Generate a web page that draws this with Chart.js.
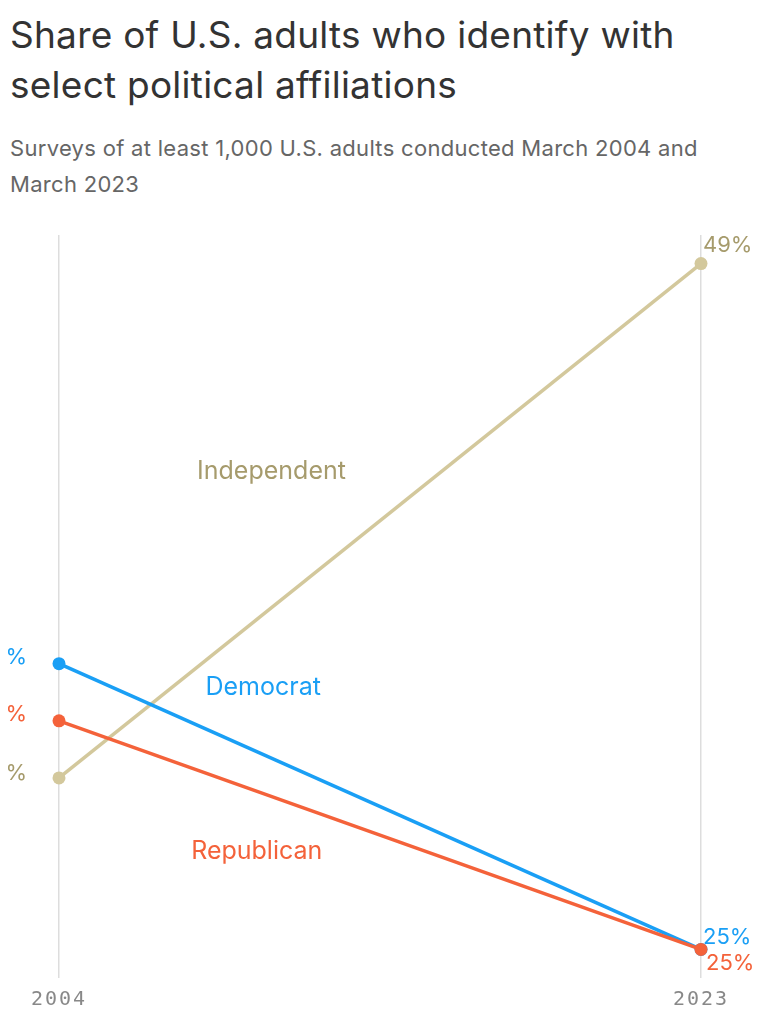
<!DOCTYPE html>
<html>
<head>
<meta charset="utf-8">
<script src="https://cdn.jsdelivr.net/npm/chart.js@4.4.1/dist/chart.umd.min.js"></script>
<style>
  html, body { margin: 0; padding: 0; background: #fff; width: 770px; height: 1020px; overflow: hidden; }
  #title { position: absolute; left: 10px; top: 10px; width: 740px; font-family: Inter, "Noto Sans", sans-serif; font-size: 37px; line-height: 50px; color: #333; letter-spacing: 0.25px; font-weight: 400; }
  #subtitle { position: absolute; left: 10px; top: 130px; width: 725px; font-family: Inter, "Noto Sans", sans-serif; font-size: 22px; line-height: 36px; color: #666; letter-spacing: 0.3px; }
  #wrap { position: absolute; left: 8px; top: 225px; width: 762px; height: 795px; }
</style>
</head>
<body>
<div id="title">Share of U.S. adults who identify with select political affiliations</div>
<div id="subtitle">Surveys of at least 1,000 U.S. adults conducted March 2004 and March 2023</div>
<div id="wrap"><canvas id="c"></canvas></div>
<script>
const years = ['2004', '2023'];
const seriesNames = ['Independent', 'Democrat', 'Republican'];
const independent = [31, 49];
const democrat = [35, 25];
const republican = [33, 25];

const lineColors = ['#D3C89C', '#1A9FF5', '#F4623A'];
const textColors = ['#A69B6C', '#1A9FF5', '#F4623A'];

// name-label anchors: [fraction across x, value on y]
const nameAnchors = [[0.331, 41.71], [0.318, 34.15], [0.308, 28.41]];
// 2004 / 2023 label vertical offsets (px)
const startOffsets = [-5, -6, -6];
const endOffsets = [-18, -12, 14];

const valueLabels = {
  id: 'valueLabels',
  beforeDraw(chart) { chart.ctx.letterSpacing = '2px'; },
  afterDatasetsDraw(chart) {
    const ctx = chart.ctx;
    const xs = chart.scales.x, ys = chart.scales.y;
    ctx.save();
    ctx.letterSpacing = '0px';
    ctx.textBaseline = 'middle';
    chart.data.datasets.forEach((ds, j) => {
      const i = ds.seriesIndex;
      const meta = chart.getDatasetMeta(j);
      const p0 = meta.data[0], p1 = meta.data[1];
      ctx.fillStyle = textColors[i];
      ctx.font = '22px Inter, "Noto Sans", sans-serif';
      ctx.textAlign = 'right';
      ctx.fillText(ds.data[0] + '%', p0.x - 32, p0.y + startOffsets[i]);
      ctx.textAlign = 'left';
      ctx.fillText(ds.data[1] + '%', p1.x + (i === 2 ? 5 : 2), p1.y + endOffsets[i]);
      const a = nameAnchors[i];
      const nx = xs.left + (xs.right - xs.left) * a[0];
      const ny = ys.getPixelForValue(a[1]);
      ctx.textAlign = 'center';
      ctx.font = '25px Inter, "Noto Sans", sans-serif';
      ctx.fillText(seriesNames[i], nx, ny);
    });
    ctx.restore();
  }
};

const seriesData = [independent, democrat, republican];
const drawOrder = [2, 1, 0];
new Chart(document.getElementById('c'), {
  type: 'line',
  data: {
    labels: years,
    datasets: seriesData.map((d, i) => ({
      label: seriesNames[i],
      seriesIndex: i,
      order: drawOrder[i],
      data: d,
      borderColor: lineColors[i],
      backgroundColor: lineColors[i],
      pointBackgroundColor: lineColors[i],
      pointBorderWidth: 0,
      pointRadius: 6.5,
      borderWidth: 3.5,
      tension: 0,
      clip: false
    }))
  },
  options: {
    responsive: true,
    maintainAspectRatio: false,
    animation: false,
    events: [],
    layout: { padding: { left: 51, right: 69, top: 10, bottom: 0 } },
    plugins: { legend: { display: false }, tooltip: { enabled: false }, title: { display: false } },
    scales: {
      x: {
        type: 'category',
        offset: false,
        border: { display: false },
        grid: { color: '#dddddd', lineWidth: 1.5, drawTicks: false },
        ticks: { color: '#888', padding: 10, font: { family: '"DejaVu Sans Mono", monospace', size: 20 } },
        afterFit(s) { s.height = 42; }
      },
      y: {
        display: false,
        min: 24, max: 50
      }
    }
  },
  plugins: [valueLabels]
});
</script>
</body>
</html>
